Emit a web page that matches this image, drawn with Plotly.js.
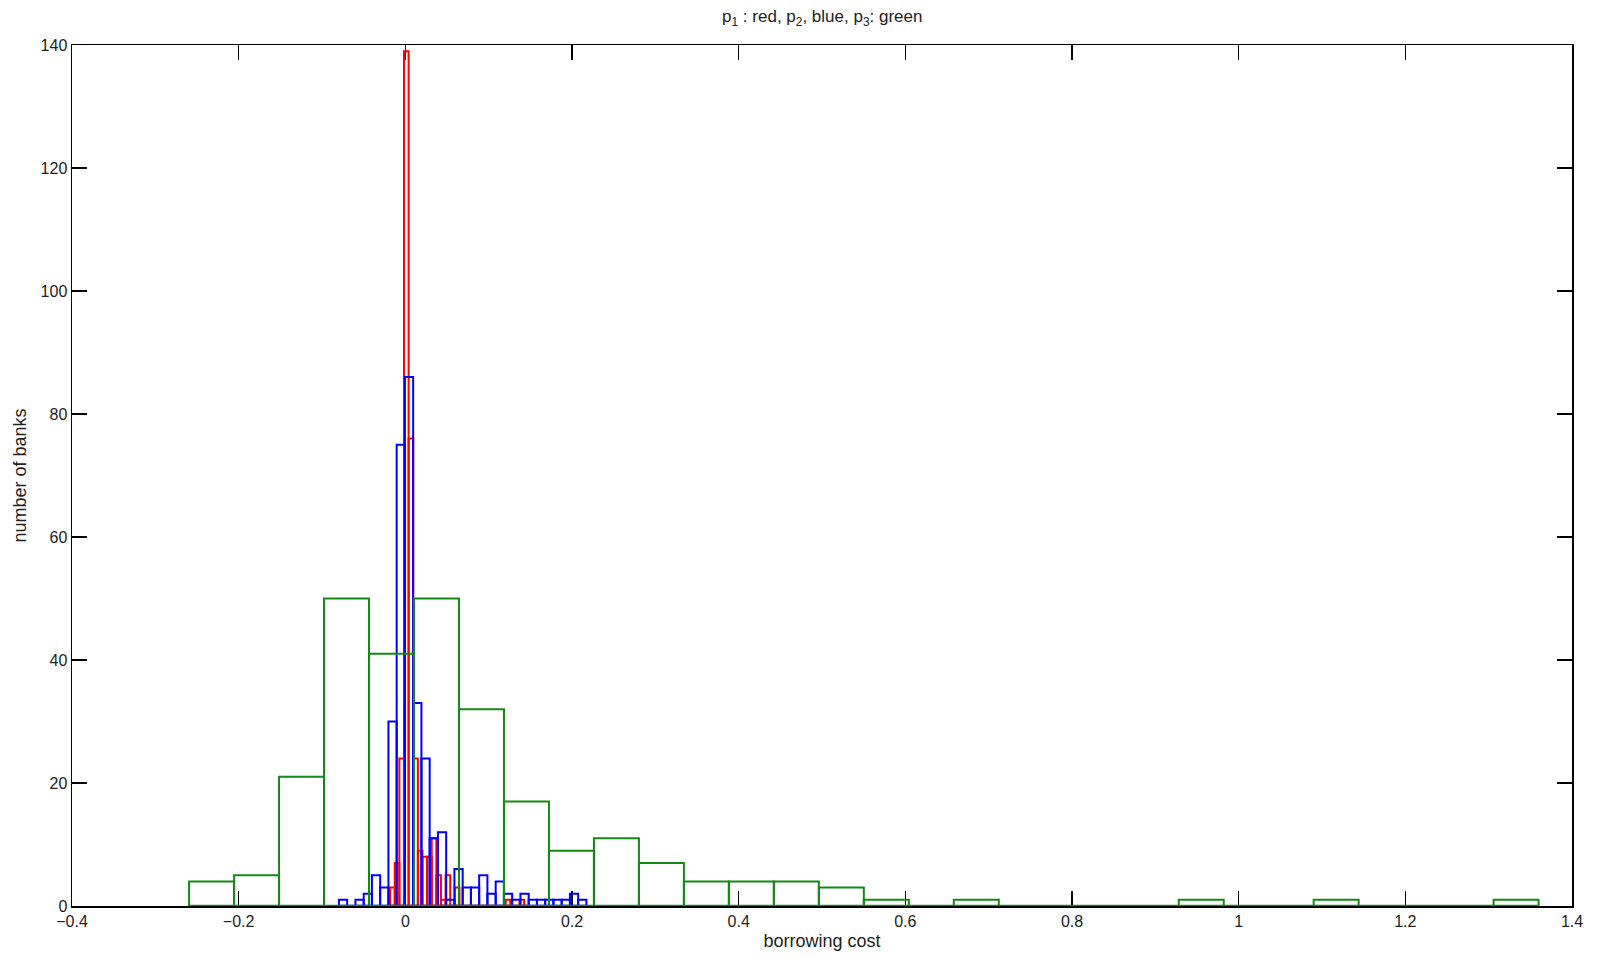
<!DOCTYPE html>
<html>
<head>
<meta charset="utf-8">
<script src="https://cdn.plot.ly/plotly-3.0.1.min.js"></script>
<style>html,body{margin:0;padding:0;background:#fff;}#chart{width:1606px;height:957px;}</style>
</head>
<body>
<div id="chart"></div>
<script>
// ---- data (histogram counts per bin, bins of equal width) ----
const redCounts   = [3,7,24,139,76,24,9,8,8,11,5,1,5,0,3,0,0,0,0,0,0,0,0,0,0,1,0,0,1,0];
const redStart    = -0.01825;
const redWidth    = 0.005546;

const blueCounts  = [1,0,1,2,5,3,30,75,86,33,24,11,12,1,6,3,3,5,2,4,2,1,2,1,1,1,1,1,2,1];
const blueStart   = -0.0797;
const blueWidth   = 0.0099;

const greenCounts = [4,5,21,50,41,50,32,17,9,11,7,4,4,4,3,1,0,1,0,0,0,0,1,0,0,1,0,0,0,1];
const greenStart  = -0.2595;
const greenWidth  = 0.05398;

const xTicks = [-0.4,-0.2,0,0.2,0.4,0.6,0.8,1,1.2,1.4];
const yTicks = [0,20,40,60,80,100,120,140];

const titleText = 'p<sub>1</sub> : red, p<sub>2</sub>, blue, p<sub>3</sub>: green';
const xTitle = 'borrowing cost';
const yTitle = 'number of banks';

function centers(start, w, n){ const c=[]; for(let i=0;i<n;i++) c.push(start + w*(i+0.5)); return c; }

function histTraces(counts, start, w, color){
  const n = counts.length;
  return [
    {type:'bar', x:centers(start,w,n), y:counts, width:w,
     marker:{color:'rgba(0,0,0,0)', line:{color:color, width:2}},
     hoverinfo:'skip', showlegend:false},
    {type:'scatter', mode:'lines', x:[start, start + w*n], y:[0,0],
     line:{color:color, width:2.5}, hoverinfo:'skip', showlegend:false, cliponaxis:false}
  ];
}

const data = [].concat(
  histTraces(redCounts, redStart, redWidth, '#ff0000'),
  histTraces(blueCounts, blueStart, blueWidth, '#0000ff'),
  histTraces(greenCounts, greenStart, greenWidth, '#138a13')
);

const font = 'Liberation Sans, Arial, Helvetica, sans-serif';
const layout = {
  width:1606, height:957,
  margin:{l:72, r:34, t:45, b:51, pad:0},
  paper_bgcolor:'#fff', plot_bgcolor:'#fff',
  barmode:'overlay', bargap:0,
  showlegend:false, hovermode:false,
  title:{text:titleText, font:{family:font, size:17, color:'#222'}, x:0.512, xanchor:'center', y:0.983, yanchor:'middle'},
  xaxis:{range:[-0.4,1.4], tickvals:xTicks, ticks:'inside', ticklen:15, tickwidth:1.5, tickcolor:'#000',
         showline:true, linecolor:'#000', linewidth:1.5, mirror:'ticks', showgrid:false, zeroline:false,
         layer:'below traces',
         tickfont:{family:font, size:16, color:'#222'},
         title:{text:xTitle, font:{family:font, size:18, color:'#222'}, standoff:5}},
  yaxis:{range:[0,140], tickvals:yTicks, ticks:'inside', ticklen:15, tickwidth:1.5, tickcolor:'#000',
         showline:true, linecolor:'#000', linewidth:1.5, mirror:'ticks', showgrid:false, zeroline:false,
         layer:'below traces',
         tickfont:{family:font, size:16, color:'#222'},
         title:{text:yTitle, font:{family:font, size:18, color:'#222'}, standoff:9}}
};

Plotly.newPlot('chart', data, layout, {staticPlot:true, displayModeBar:false});
</script>
</body>
</html>
